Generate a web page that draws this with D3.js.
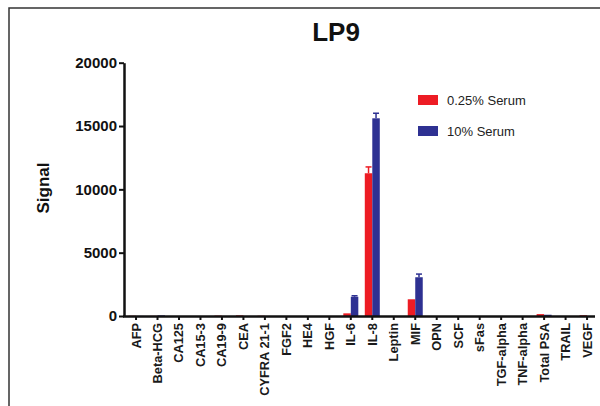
<!DOCTYPE html>
<html>
<head>
<meta charset="utf-8">
<script src="https://cdn.jsdelivr.net/npm/d3@7"></script>
<style>
  html, body { margin: 0; padding: 0; background: #fff; }
  svg { display: block; font-family: "Liberation Sans", Arial, sans-serif; }
</style>
</head>
<body>
<div id="chart"></div>
<script>
const categories = ["AFP","Beta-HCG","CA125","CA15-3","CA19-9","CEA","CYFRA 21-1","FGF2","HE4","HGF","IL-6","IL-8","Leptin","MIF","OPN","SCF","sFas","TGF-alpha","TNF-alpha","Total PSA","TRAIL","VEGF"];
const seriesNames = ["0.25% Serum", "10% Serum"];
const lowSerum  = [20, 10, 0, 0, 30, 50, 20, 0, 0, 0, 210, 11270, 0, 1320, 0, 0, 0, 0, 0, 150, 0, 60];
const lowErr    = [0, 0, 0, 0, 0, 0, 0, 0, 0, 0, 0, 500, 0, 0, 0, 0, 0, 0, 0, 0, 0, 0];
const highSerum = [5, 50, 0, 0, 0, 0, 0, 0, 0, 0, 1520, 15610, 0, 3060, 0, 0, 0, 0, 0, 100, 0, 0];
const highErr   = [0, 0, 0, 0, 0, 0, 0, 0, 0, 0, 80, 400, 0, 250, 0, 0, 0, 0, 0, 0, 0, 0];
const yTicks = [0, 5000, 10000, 15000, 20000];
const colors = ["#ed1c24", "#2e3192"];

const W = 600, H = 406;
const svg = d3.select("#chart").append("svg").attr("width", W).attr("height", H);

// frame
svg.append("rect").attr("x", 9).attr("y", 8).attr("width", 600).attr("height", 410)
  .attr("fill", "none").attr("stroke", "#333").attr("stroke-width", 1.5);

const x = d3.scaleBand().domain(categories).range([125.3, 597.8]);
const x1 = d3.scaleBand().domain(seriesNames).range([-7.5, 7.5]);
const y = d3.scaleLinear().domain([0, 20000]).range([316, 62.7]);
const axisX = 124;

// title
svg.append("text").attr("x", 336).attr("y", 41).attr("text-anchor", "middle")
  .attr("font-size", 26).attr("font-weight", "bold").attr("fill", "#111").text("LP9");

// y label
svg.append("text").attr("transform", "translate(49,188) rotate(-90)").attr("text-anchor", "middle")
  .attr("font-size", 17).attr("font-weight", "bold").attr("fill", "#111").text("Signal");

// bars
const rows = categories.map((c, i) => ({ c, vals: [
  { s: seriesNames[0], v: lowSerum[i], e: lowErr[i], col: colors[0] },
  { s: seriesNames[1], v: highSerum[i], e: highErr[i], col: colors[1] }
]}));

const g = svg.append("g");
rows.forEach(r => {
  const cx = x(r.c) + x.bandwidth() / 2;
  r.vals.forEach(d => {
    if (d.v <= 0) return;
    const bx = cx + x1(d.s);
    g.append("rect").attr("x", bx).attr("y", y(d.v)).attr("width", x1.bandwidth())
      .attr("height", y(0) - y(d.v)).attr("fill", d.col);
    if (d.e > 0) {
      const mx = bx + x1.bandwidth() / 2;
      g.append("line").attr("x1", mx).attr("x2", mx).attr("y1", y(d.v)).attr("y2", y(d.v + d.e))
        .attr("stroke", d.col).attr("stroke-width", 1.5);
      g.append("line").attr("x1", mx - 3).attr("x2", mx + 3).attr("y1", y(d.v + d.e)).attr("y2", y(d.v + d.e))
        .attr("stroke", d.col).attr("stroke-width", 1.5);
    }
  });
});

// y axis
const yAxis = svg.append("g").attr("transform", `translate(${axisX},0)`)
  .call(d3.axisLeft(y).tickValues(yTicks).tickSize(5).tickSizeOuter(0).tickPadding(2).tickFormat(d3.format("d")));
yAxis.select(".domain").attr("stroke", "#111").attr("stroke-width", 2.5);
yAxis.selectAll(".tick line").attr("stroke", "#111").attr("stroke-width", 2);
yAxis.selectAll(".tick text").attr("font-size", 15).attr("font-weight", "bold").attr("fill", "#111")
  .attr("font-family", "Liberation Sans, Arial, sans-serif");

// x axis
const xAxis = svg.append("g").attr("transform", `translate(0,${y(0)})`)
  .call(d3.axisBottom(x).tickSize(4).tickSizeOuter(0).tickPadding(3));
xAxis.select(".domain").attr("stroke", "#111").attr("stroke-width", 2.5)
  .attr("d", `M${axisX - 1},0.5H595`);
xAxis.selectAll(".tick line").attr("stroke", "#111").attr("stroke-width", 2);
xAxis.selectAll(".tick text").attr("font-size", 12.8).attr("font-weight", "bold").attr("fill", "#1a1a1a")
  .attr("font-family", "Liberation Sans, Arial, sans-serif")
  .attr("transform", "rotate(-90)").attr("text-anchor", "end")
  .attr("x", -7).attr("y", 0).attr("dy", "0.35em");

// legend
const leg = svg.append("g");
seriesNames.forEach((s, i) => {
  const ly = 95 + i * 31;
  leg.append("rect").attr("x", 418).attr("y", ly).attr("width", 20).attr("height", 10).attr("fill", colors[i]);
  leg.append("text").attr("x", 447).attr("y", ly + 10).attr("font-size", 13).attr("fill", "#222").text(s);
});
</script>
</body>
</html>
